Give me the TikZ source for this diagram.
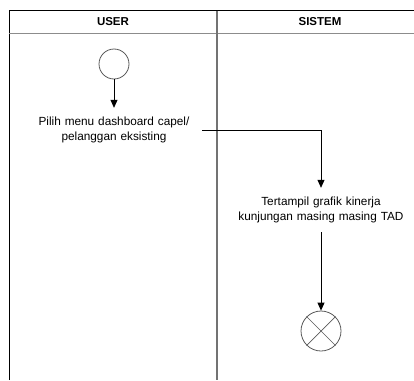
\documentclass[tikz,border=0pt]{standalone}
\usepackage{fontspec}
\setmainfont{Liberation Sans}
\usetikzlibrary{arrows.meta}
\begin{document}
\begin{tikzpicture}[x=1pt,y=-1pt]
\tikzset{
  frameline/.style={draw=black, line width=0.9pt},
  laneline/.style={draw=black!55, line width=1.8pt},
  headline/.style={draw=black!45, line width=1pt},
  lanetitle/.style={font=\bfseries\fontsize{11.5}{13}\selectfont},
  action/.style={align=center, text width=170pt, inner xsep=3pt, inner ysep=9pt,
    font=\fontsize{11.8}{15}\selectfont},
  startnode/.style={circle, draw=black!65, line width=0.8pt, minimum size=30pt, inner sep=0pt},
  endnode/.style={circle, draw=black!65, line width=0.8pt, minimum size=40pt, inner sep=0pt},
  flow/.style={-{Triangle[length=8pt,width=7pt]}, line width=0.8pt},
}
\useasboundingbox (0,0) rectangle (414,380);

% swimlane frame
\draw[frameline] (9,380) -- (9,10.7) -- (414,10.7);
\draw[headline] (9,33) -- (414,33);
\draw[laneline] (217,10.7) -- (217,380);

\node[lanetitle] (user) at (113,22) {USER};
\node[lanetitle] (sistem) at (320,22) {SISTEM};

% activity nodes
\node[startnode] (start) at (114,64) {};
\node[action] (act1) at (114,130) {Pilih menu dashboard capel/\\pelanggan eksisting};
\node[action] (act2) at (321,210) {Tertampil grafik kinerja\\kunjungan masing masing TAD};
\node[endnode] (end) at (321,331) {};
\draw[black!65, line width=0.7pt] (end.north east) -- (end.south west);
\draw[black!65, line width=0.7pt] (end.north west) -- (end.south east);

% control flow
\draw[flow] (start) -- (act1);
\draw[flow] (act1.east) -| (act2.north);
\draw[flow] (act2) -- (end);
\end{tikzpicture}
\end{document}
